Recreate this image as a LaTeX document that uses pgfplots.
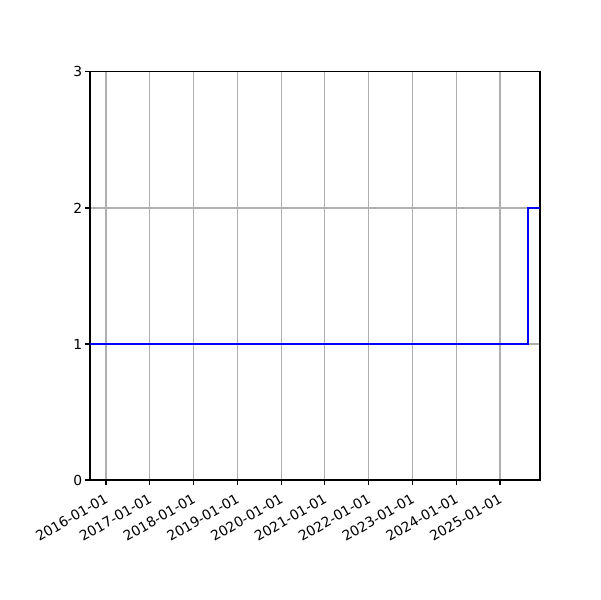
\documentclass[border=0pt]{standalone}
\usepackage{fontspec}
\setmainfont{DejaVu Sans}
\usepackage{pgfplots}
\pgfplotsset{compat=1.18}
\begin{document}
\begin{tikzpicture}
\path[use as bounding box] (0,0) rectangle (433.6pt,433.6pt);
\begin{axis}[
  at={(65.04pt,86.72pt)}, anchor=south west,
  scale only axis, width=325.2pt, height=294.9pt,
  xmin=2015.635, xmax=2025.914, ymin=0, ymax=3,
  xtick={2016,2017,2018,2019,2020,2021,2022,2023,2024,2025},
  xticklabels={2016-01-01,2017-01-01,2018-01-01,2019-01-01,2020-01-01,2021-01-01,2022-01-01,2023-01-01,2024-01-01,2025-01-01},
  ytick={0,1,2,3},
  xticklabel style={rotate=30, anchor=north east, inner sep=1pt, yshift=-3pt, xshift=-3pt},
  yticklabel style={inner sep=2pt},
  tick style={black, line width=0.8pt},
  tick align=outside, major tick length=3.5pt,
  xtick pos=bottom, ytick pos=left,
  axis line style={line width=0.8pt},
  grid=major, grid style={color=black!31, line width=0.8pt},
  /pgf/number format/assume math mode=true,
  every tick label/.append style={font=\fontsize{10}{12}\selectfont},
]
\addplot[blue, line width=1.5pt, const plot, mark=none] coordinates {
  (2015.635,1) (2025.64,2) (2025.914,2)
};
\end{axis}
\end{tikzpicture}
\end{document}
